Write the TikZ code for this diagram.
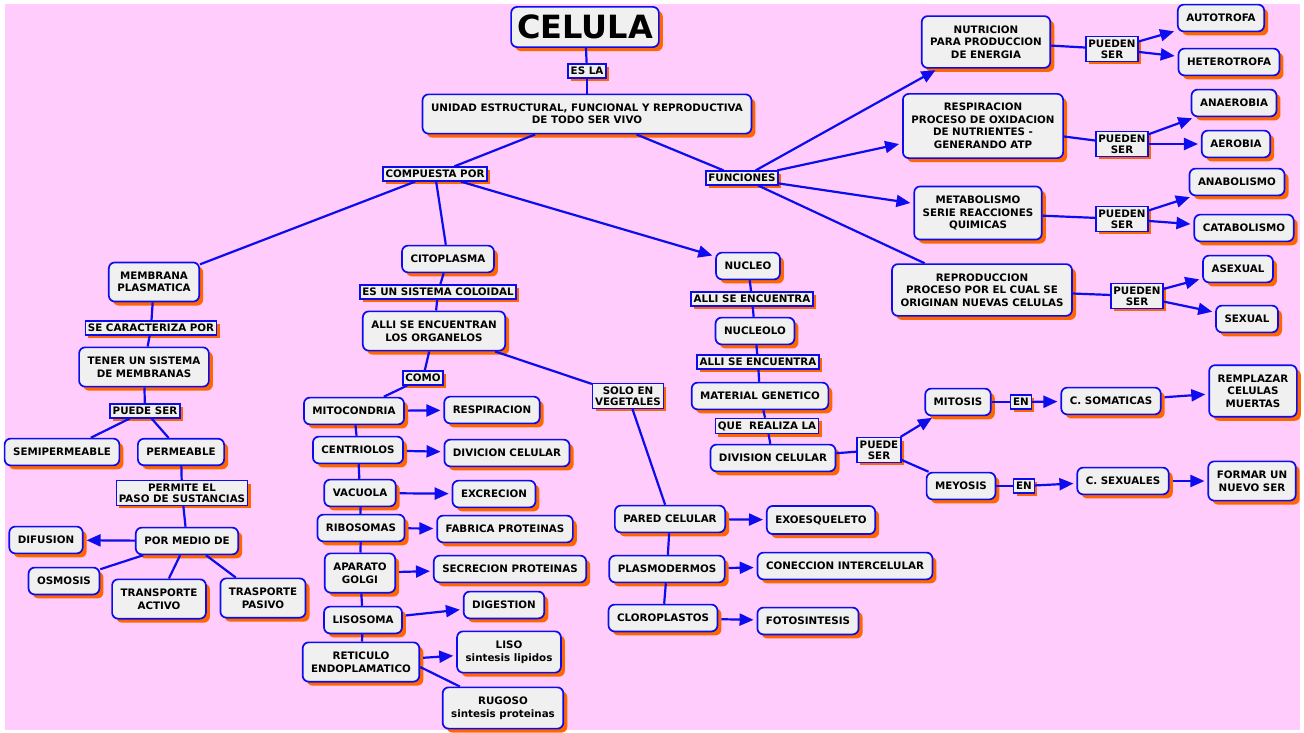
\documentclass[tikz,border=0pt]{standalone}
\usepackage{fontspec}
\setmainfont{DejaVu Sans}
\usetikzlibrary{positioning,arrows.meta,shadows}
\definecolor{bgpink}{RGB}{255,204,252}
\definecolor{cblue}{RGB}{12,12,238}
\definecolor{corange}{RGB}{255,102,0}
\definecolor{cgray}{RGB}{240,240,240}
\tikzset{cbox/.style={draw=cblue, line width=1.7pt, rounded corners=6pt, fill=cgray, align=center, inner xsep=8.5pt, inner ysep=9.5pt, font=\bfseries\fontsize{10.3}{12.5}\selectfont, general shadow={fill=corange, shadow xshift=4pt, shadow yshift=-4pt}}}
\tikzset{clab/.style={draw=cblue, line width=1.5pt, fill=cgray, align=center, inner xsep=2.5pt, inner ysep=3pt, font=\bfseries\fontsize{10.3}{11}\selectfont, general shadow={fill=corange, shadow xshift=3pt, shadow yshift=-3pt}}}
\tikzset{ln/.style={draw=cblue, line width=2.2pt}}
\tikzset{arr/.style={ln, -{Triangle[length=14pt,width=12pt]}, shorten <=3pt, shorten >=3pt}}

\begin{document}
\begin{tikzpicture}[x=1pt, y=-1pt]
	\useasboundingbox[fill=white] (0,0) rectangle (1304,733);
	\fill[bgpink] (5,4) rectangle (1300,730);
	%
	\node[cbox, inner xsep=6pt, inner ysep=8pt, font=\bfseries\fontsize{32}{36}\selectfont] (celula) at (585,27) {CELULA};
	\node[clab] (esla) at (587,71) {ES LA};
	\node[cbox] (unidad) at (587,114) {UNIDAD ESTRUCTURAL, FUNCIONAL Y REPRODUCTIVA\\DE TODO SER VIVO};
	\node[clab] (comp) at (435,174) {COMPUESTA POR};
	\node[clab] (func) at (742,178) {FUNCIONES};
	% membrana
	\node[cbox] (memb) at (154,282) {MEMBRANA\\PLASMATICA};
	\node[clab] (secar) at (151,328) {SE CARACTERIZA POR};
	\node[cbox] (tener) at (144,367) {TENER UN SISTEMA\\DE MEMBRANAS};
	\node[clab] (puede) at (145,411) {PUEDE SER};
	\node[cbox] (semi) at (62,452) {SEMIPERMEABLE};
	\node[cbox] (perm) at (181,452) {PERMEABLE};
	\node[clab] (permite) at (182,493) {PERMITE EL\\PASO DE SUSTANCIAS};
	\node[cbox] (pormed) at (187,541) {POR MEDIO DE};
	\node[cbox] (difus) at (46,540) {DIFUSION};
	\node[cbox] (osmo) at (64,581) {OSMOSIS};
	\node[cbox] (tact) at (159,599) {TRANSPORTE\\ACTIVO};
	\node[cbox] (tpas) at (263,598) {TRASPORTE\\PASIVO};
	% citoplasma
	\node[cbox] (cito) at (448,259) {CITOPLASMA};
	\node[clab] (coloid) at (438,292) {ES UN SISTEMA COLOIDAL};
	\node[cbox] (organ) at (434,331) {ALLI SE ENCUENTRAN\\LOS ORGANELOS};
	\node[clab] (como) at (423,378) {COMO};
	\node[clab] (soloveg) at (628,396) {SOLO EN\\VEGETALES};
	\node[cbox] (mito) at (354,411) {MITOCONDRIA};
	\node[cbox] (resp) at (492,410) {RESPIRACION};
	\node[cbox] (centr) at (358,450) {CENTRIOLOS};
	\node[cbox] (divc) at (507,453) {DIVICION CELULAR};
	\node[cbox] (vacu) at (360,493) {VACUOLA};
	\node[cbox] (excr) at (494,494) {EXCRECION};
	\node[cbox] (ribo) at (361,528) {RIBOSOMAS};
	\node[cbox] (fabr) at (505,529) {FABRICA PROTEINAS};
	\node[cbox] (golgi) at (360,573) {APARATO\\GOLGI};
	\node[cbox] (secr) at (510,569) {SECRECION PROTEINAS};
	\node[cbox] (liso) at (363,620) {LISOSOMA};
	\node[cbox] (dige) at (504,605) {DIGESTION};
	\node[cbox] (reti) at (361,662) {RETICULO\\ENDOPLAMATICO};
	\node[cbox] (lisob) at (509,652) {LISO\\sintesis lipidos};
	\node[cbox] (rugo) at (503,708) {RUGOSO\\sintesis proteinas};
	% vegetales
	\node[cbox] (pared) at (670,519) {PARED CELULAR};
	\node[cbox] (exoe) at (821,520) {EXOESQUELETO};
	\node[cbox] (plasmo) at (667,569) {PLASMODERMOS};
	\node[cbox] (conec) at (845,566) {CONECCION INTERCELULAR};
	\node[cbox] (cloro) at (663,618) {CLOROPLASTOS};
	\node[cbox] (foto) at (808,621) {FOTOSINTESIS};
	% nucleo
	\node[cbox] (nucleo) at (748,266) {NUCLEO};
	\node[clab] (alli1) at (752,299) {ALLI SE ENCUENTRA};
	\node[cbox] (nucleolo) at (755,331) {NUCLEOLO};
	\node[clab] (alli2) at (758,362) {ALLI SE ENCUENTRA};
	\node[cbox] (matgen) at (760,396) {MATERIAL GENETICO};
	\node[clab] (quereal) at (767,426) {QUE~ REALIZA LA};
	\node[cbox] (divcel) at (773,458) {DIVISION CELULAR};
	\node[clab] (puedeD) at (879,450) {PUEDE\\SER};
	\node[cbox] (mitosis) at (958,402) {MITOSIS};
	\node[clab] (en1) at (1021,402) {EN};
	\node[cbox] (csom) at (1111,401) {C. SOMATICAS};
	\node[cbox] (rempl) at (1253,391) {REMPLAZAR\\CELULAS\\MUERTAS};
	\node[cbox] (meyosis) at (961,486) {MEYOSIS};
	\node[clab] (en2) at (1024,486) {EN};
	\node[cbox] (csex) at (1123,481) {C. SEXUALES};
	\node[cbox] (formar) at (1252,481) {FORMAR UN\\NUEVO SER};
	% funciones
	\node[cbox] (nutri) at (986,42) {NUTRICION\\PARA PRODUCCION\\DE ENERGIA};
	\node[clab] (pn1) at (1112,49) {PUEDEN\\SER};
	\node[cbox] (auto) at (1221,18) {AUTOTROFA};
	\node[cbox] (hetero) at (1229,62) {HETEROTROFA};
	\node[cbox] (respf) at (983,126) {RESPIRACION\\PROCESO DE OXIDACION\\DE NUTRIENTES -\\GENERANDO ATP};
	\node[clab] (pn2) at (1122,144) {PUEDEN\\SER};
	\node[cbox] (anaer) at (1234,103) {ANAEROBIA};
	\node[cbox] (aer) at (1236,144) {AEROBIA};
	\node[cbox] (metab) at (978,213) {METABOLISMO\\SERIE REACCIONES\\QUIMICAS};
	\node[clab] (pn3) at (1122,219) {PUEDEN\\SER};
	\node[cbox] (anab) at (1237,182) {ANABOLISMO};
	\node[cbox] (catab) at (1244,228) {CATABOLISMO};
	\node[cbox] (repro) at (982,290) {REPRODUCCION\\PROCESO POR EL CUAL SE\\ORIGINAN NUEVAS CELULAS};
	\node[clab] (pn4) at (1137,296) {PUEDEN\\SER};
	\node[cbox] (asex) at (1238,269) {ASEXUAL};
	\node[cbox] (sex) at (1247,319) {SEXUAL};
	%
	\draw[ln] (celula) -- (esla);
	\draw[ln] (esla) -- (unidad);
	\draw[ln] (unidad) -- (comp);
	\draw[ln] (unidad) -- (func);
	\draw[ln] (comp) -- (memb);
	\draw[ln] (comp) -- (cito);
	\draw[arr, shorten <=0pt] (comp) -- (nucleo);
	% membrana
	\draw[ln] (memb) -- (secar);
	\draw[ln] (secar) -- (tener);
	\draw[ln] (tener) -- (puede);
	\draw[ln] (puede) -- (semi);
	\draw[ln] (puede) -- (perm);
	\draw[ln] (perm) -- (permite);
	\draw[ln] (permite) -- (pormed);
	\draw[arr, shorten <=0pt] (pormed) -- (difus);
	\draw[ln] (pormed) -- (osmo);
	\draw[ln] (pormed) -- (tact);
	\draw[ln] (pormed) -- (tpas);
	% citoplasma
	\draw[ln] (cito) -- (coloid);
	\draw[ln] (coloid) -- (organ);
	\draw[ln] (organ) -- (como);
	\draw[ln] (como) -- (mito);
	\draw[ln] (organ) -- (soloveg);
	\draw[ln] (soloveg) -- (pared);
	\draw[ln] (mito) -- (centr);
	\draw[ln] (centr) -- (vacu);
	\draw[ln] (vacu) -- (ribo);
	\draw[ln] (ribo) -- (golgi);
	\draw[ln] (golgi) -- (liso);
	\draw[ln] (liso) -- (reti);
	\draw[arr] (mito) -- (resp);
	\draw[arr] (centr) -- (divc);
	\draw[arr] (vacu) -- (excr);
	\draw[arr] (ribo) -- (fabr);
	\draw[arr] (golgi) -- (secr);
	\draw[arr] (liso) -- (dige);
	\draw[arr] (reti) -- (lisob);
	\draw[ln] ([yshift=-5pt]reti.east) -- ([xshift=18pt]rugo.north west);
	% vegetales
	\draw[ln] (pared) -- (plasmo);
	\draw[ln] (plasmo) -- (cloro);
	\draw[arr] (pared) -- (exoe);
	\draw[arr] (plasmo) -- (conec);
	\draw[arr] (cloro) -- (foto);
	% nucleo
	\draw[ln] (nucleo) -- (alli1);
	\draw[ln] (alli1) -- (nucleolo);
	\draw[ln] (nucleolo) -- (alli2);
	\draw[ln] (alli2) -- (matgen);
	\draw[ln] (matgen) -- (quereal);
	\draw[ln] (quereal) -- (divcel);
	\draw[ln] (divcel) -- (puedeD);
	\draw[arr, shorten <=0pt] (puedeD) -- (mitosis);
	\draw[ln] (puedeD) -- (meyosis);
	\draw[ln] (mitosis) -- (en1);
	\draw[arr, shorten <=0pt] (en1) -- (csom);
	\draw[arr] (csom) -- (rempl);
	\draw[ln] (meyosis) -- (en2);
	\draw[arr, shorten <=0pt] (en2) -- (csex);
	\draw[arr] (csex) -- (formar);
	% funciones
	\draw[arr, shorten <=0pt] (func) -- (nutri);
	\draw[arr, shorten <=0pt] (func) -- (respf);
	\draw[arr, shorten <=0pt] (func) -- (metab);
	\draw[ln] (func) -- (repro);
	\draw[ln] (nutri) -- (pn1);
	\draw[ln] (respf) -- (pn2);
	\draw[ln] (metab) -- (pn3);
	\draw[ln] (repro) -- (pn4);
	\draw[arr, shorten <=0pt] (pn1) -- (auto);
	\draw[arr, shorten <=0pt] (pn1) -- (hetero);
	\draw[arr, shorten <=0pt] (pn2) -- (anaer);
	\draw[arr, shorten <=0pt] (pn2) -- (aer);
	\draw[arr, shorten <=0pt] (pn3) -- (anab);
	\draw[arr, shorten <=0pt] (pn3) -- (catab);
	\draw[arr, shorten <=0pt] (pn4) -- (asex);
	\draw[arr, shorten <=0pt] (pn4) -- (sex);
\end{tikzpicture}
\end{document}
